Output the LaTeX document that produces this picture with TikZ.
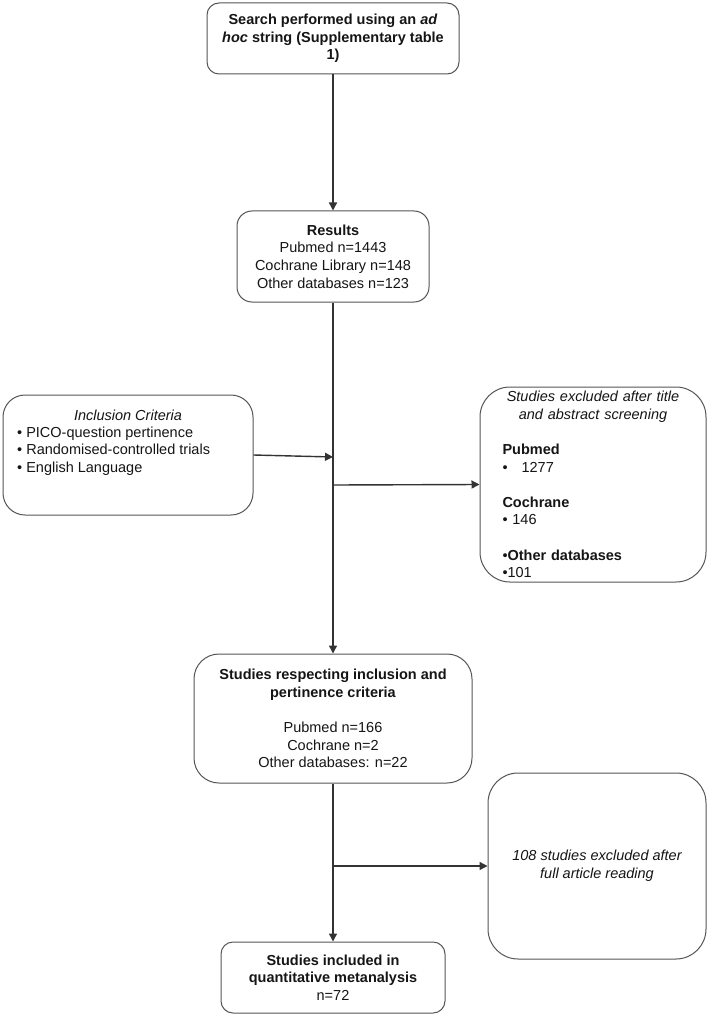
\documentclass[tikz,border=0pt]{standalone}
\usepackage{fontspec}
\setmainfont{Liberation Sans}
\usetikzlibrary{arrows.meta}
\definecolor{boxline}{HTML}{555555}
\definecolor{conn}{HTML}{333333}
\definecolor{txt}{HTML}{151515}
\begin{document}
\begin{tikzpicture}[x=1pt,y=-1pt,
  box/.style={draw=boxline,line width=1pt,fill=white,text=txt,align=center,
    inner sep=0pt,font=\fontsize{14.5}{17.6}\selectfont},
  arr/.style={draw=conn,line width=1.4pt,-{Triangle[length=8pt,width=8pt]}},
  plain/.style={text=txt,inner sep=0pt,font=\fontsize{14.5}{17.6}\selectfont}]
\useasboundingbox[fill=white] (0,0) rectangle (709,1016);

\node[box,rounded corners=12pt,minimum width=252pt,minimum height=71pt] (search) at (333,38.5)
  {\bfseries Search performed using an \textit{ad}\\ \bfseries\textit{hoc} string (Supplementary table\\ \bfseries 1)};

\node[box,rounded corners=15pt,minimum width=192pt,minimum height=91pt] (results) at (333,256.5)
  {\textbf{Results}\\Pubmed n=1443\\Cochrane Library n=148\\Other databases n=123};

\node[box,rounded corners=22pt,minimum width=250pt,minimum height=120pt] (incl) at (128,455) {};
\node[plain,align=center] (inclhead) at (128,415) {\itshape Inclusion Criteria};
\node[plain,align=left,anchor=west] (incllist) at (17,451)
  {• PICO-question pertinence\\• Randomised-controlled trials\\• English Language};

\node[box,rounded corners=30pt,minimum width=226pt,minimum height=195pt,text width=181pt,align=left] (excl) at (593,484.5)
  {{\centering\itshape Studies excluded after title\\and abstract screening\par}
   \vspace{\baselineskip}
   \raggedright\textbf{Pubmed}\\•\hspace{14pt}1277\par
   \vspace{\baselineskip}
   \textbf{Cochrane}\\• 146\par
   \vspace{\baselineskip}
   •\textbf{Other databases}\\•101};

\node[box,rounded corners=25pt,minimum width=278pt,minimum height=129pt] (resp) at (333,718.5)
  {\textbf{Studies respecting inclusion and}\\\textbf{pertinence criteria}\\[17.6pt]Pubmed n=166\\Cochrane n=2\\Other databases: n=22};

\node[box,rounded corners=30pt,minimum width=218pt,minimum height=186pt] (full) at (597,866)
  {\itshape 108 studies excluded after\\\itshape full article reading};

\node[box,rounded corners=12pt,minimum width=224pt,minimum height=71pt] (final) at (333,977.5)
  {\textbf{Studies included in}\\\textbf{quantitative metanalysis}\\n=72};

\coordinate (j1) at (333,457);
\coordinate (j2) at (333,485);
\coordinate (j3) at (333,866);

\draw[arr] (search.south) -- (results.north);
\draw[arr] (results.south) -- (resp.north);
\draw[arr] (incl.east) -- (j1);
\draw[arr] (j2) -- (excl.west);
\draw[arr] (resp.south) -- (final.north);
\draw[arr] (j3) -- (full.west);
\end{tikzpicture}
\end{document}
